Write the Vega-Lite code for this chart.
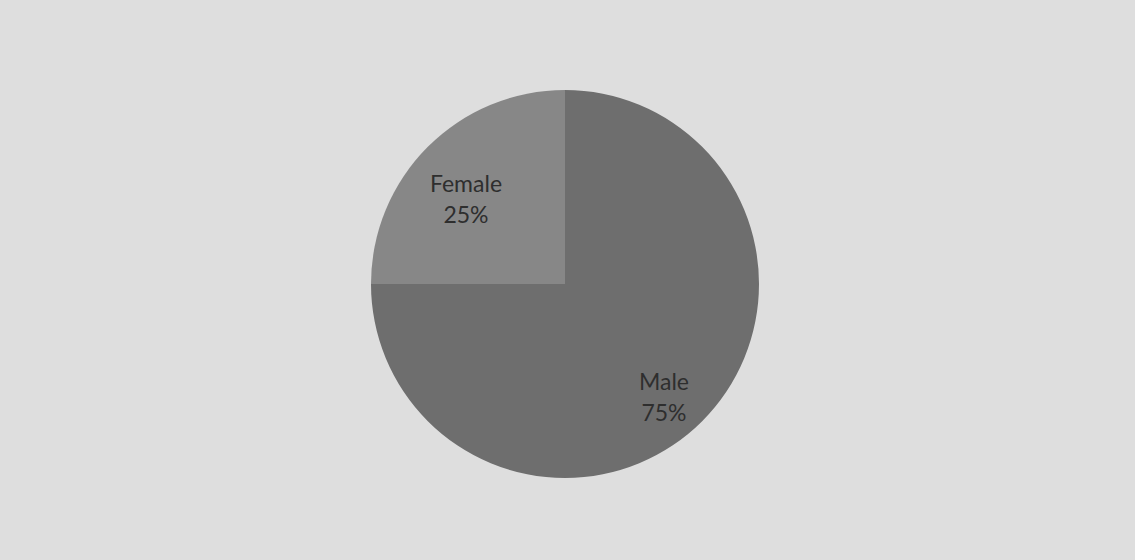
{
  "$schema": "https://vega.github.io/schema/vega-lite/v6.json",
  "autosize": {"type": "fit", "contains": "padding"},
  "width": 1135,
  "height": 560,
  "padding": {"left": 0, "top": 8, "right": 5, "bottom": 0},
  "background": "#dedede",
  "config": {"view": {"stroke": null}},
  "data": {"values": [
    {"gender": "Male", "value": 75, "label": "Male\n75%"},
    {"gender": "Female", "value": 25, "label": "Female\n25%"}
  ]},
  "encoding": {
    "theta": {"field": "value", "type": "quantitative", "stack": true},
    "order": {"field": "value", "sort": "descending"}
  },
  "layer": [
    {
      "mark": {"type": "arc", "outerRadius": 194},
      "encoding": {
        "color": {
          "field": "gender", "type": "nominal",
          "scale": {"domain": ["Male", "Female"], "range": ["#6e6e6e", "#878787"]},
          "legend": null
        }
      }
    },
    {
      "mark": {"type": "text", "radius": 140, "lineBreak": "\n", "font": "Lato", "fontSize": 23, "color": "#2e2e2e", "lineHeight": 31},
      "encoding": {"text": {"field": "label"}}
    }
  ]
}
